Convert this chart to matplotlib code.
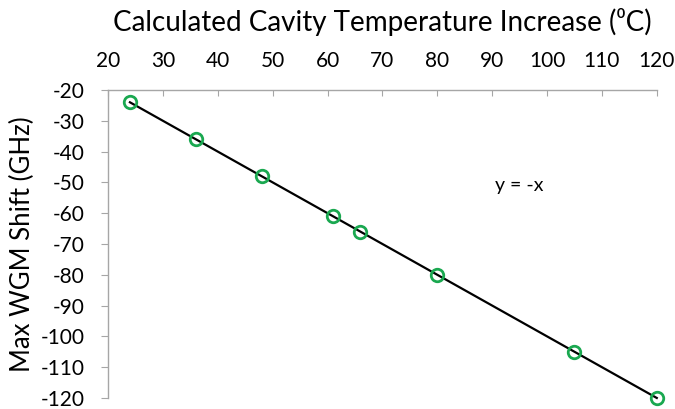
import numpy as np
import matplotlib.pyplot as plt

plt.rcParams['font.family'] = ['Lato', 'DejaVu Sans']
plt.rcParams['axes.unicode_minus'] = False

# data
temp_increase = [24, 36, 48, 61, 66, 80, 105, 120]
wgm_shift = [-24, -36, -48, -61, -66, -80, -105, -120]
fit_x = np.array([24, 120])
fit_y = -fit_x

fig = plt.figure(figsize=(6.75, 4.09), dpi=100)
ax = fig.add_axes([0.16, 0.027, 0.813, 0.753])

ax.plot(fit_x, fit_y, color='black', linewidth=1.6, zorder=2, clip_on=False)
ax.plot(temp_increase, wgm_shift, linestyle='none', marker='o', markersize=9,
        markerfacecolor='none', markeredgecolor='#1aa850', markeredgewidth=2,
        zorder=3, clip_on=False)

ax.set_xlim(20, 120)
ax.set_ylim(-120, -20)
ax.set_xticks(range(20, 121, 10))
ax.set_yticks(range(-120, -19, 10))
ax.xaxis.tick_top()
ax.xaxis.set_label_position('top')

for s in ['right', 'bottom']:
    ax.spines[s].set_visible(False)
for s in ['top', 'left']:
    ax.spines[s].set_color('#a6a6a6')
    ax.spines[s].set_linewidth(1)

ax.tick_params(axis='x', direction='in', length=4, color='#a6a6a6', labelsize=15, pad=14)
ax.tick_params(axis='y', direction='out', length=5, color='#a6a6a6', labelsize=15, pad=12)

ax.set_xlabel('Calculated Cavity Temperature Increase (⁰C)', fontsize=20, labelpad=14)
ax.set_ylabel('Max WGM Shift (GHz)', fontsize=18.5, labelpad=4)

ax.text(95, -51, 'y = -x', fontsize=14, ha='center', va='center')

fig.savefig('out.png', dpi=100)
